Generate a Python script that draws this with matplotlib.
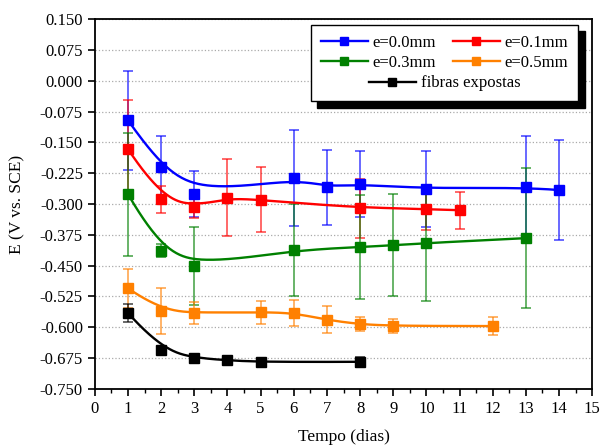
import numpy as np
import matplotlib
matplotlib.use("Agg")
import matplotlib.pyplot as plt
from matplotlib.lines import Line2D
from matplotlib.ticker import MultipleLocator, FormatStrFormatter

plt.rcParams["font.family"] = ["Liberation Serif", "DejaVu Serif"]
plt.rcParams["axes.unicode_minus"] = False

# dados
dias_00 = [1, 2, 3, 6, 7, 8, 10, 13, 14]
e_00 = [-0.096, -0.210, -0.276, -0.237, -0.259, -0.251, -0.264, -0.259, -0.266]
err_00 = [0.120, 0.075, 0.056, 0.117, 0.091, 0.080, 0.092, 0.124, 0.122]

dias_01 = [1, 2, 3, 4, 5, 8, 10, 11]
e_01 = [-0.166, -0.288, -0.307, -0.285, -0.290, -0.310, -0.312, -0.315]
err_01 = [0.119, 0.033, 0.027, 0.094, 0.079, 0.072, 0.050, 0.045]

dias_03 = [1, 2, 3, 6, 8, 9, 10, 13]
e_03 = [-0.276, -0.414, -0.451, -0.412, -0.405, -0.400, -0.395, -0.383]
err_03 = [0.150, 0.016, 0.094, 0.113, 0.127, 0.125, 0.141, 0.170]

dias_05 = [1, 2, 3, 5, 6, 7, 8, 9, 12]
e_05 = [-0.505, -0.560, -0.565, -0.563, -0.565, -0.582, -0.593, -0.597, -0.597]
err_05 = [0.047, 0.056, 0.027, 0.028, 0.032, 0.033, 0.017, 0.017, 0.022]

dias_fib = [1, 2, 3, 4, 5, 8]
e_fib = [-0.565, -0.655, -0.675, -0.680, -0.685, -0.684]
err_fib = [0.022, 0.0, 0.004, 0.006, 0.005, 0.012]


def bspline(x, y, n=300, k=3):
    # curva B-spline com os pontos como pontos de controle (como no Origin)
    P = np.column_stack([x, y]).astype(float)
    m = len(P)
    k = min(k, m - 1)
    t = np.concatenate([np.zeros(k), np.arange(m - k + 1), np.full(k, m - k)]).astype(float)
    u = np.linspace(0, m - k, n)
    u[-1] -= 1e-9

    def base(i, p):
        if p == 0:
            return ((t[i] <= u) & (u < t[i + 1])).astype(float)
        a = np.zeros_like(u)
        d1 = t[i + p] - t[i]
        if d1 > 0:
            a += (u - t[i]) / d1 * base(i, p - 1)
        d2 = t[i + p + 1] - t[i + 1]
        if d2 > 0:
            a += (t[i + p + 1] - u) / d2 * base(i + 1, p - 1)
        return a

    B = np.column_stack([base(i, k) for i in range(m)])
    C = B @ P
    return C[:, 0], C[:, 1]


fig = plt.figure(figsize=(6, 4.46), dpi=100)
ax = fig.add_axes([0.158, 0.128, 0.829, 0.829])

series = [
    (dias_00, e_00, err_00, "#0000ff", "e=0.0mm"),
    (dias_01, e_01, err_01, "#ff0000", "e=0.1mm"),
    (dias_03, e_03, err_03, "#008000", "e=0.3mm"),
    (dias_05, e_05, err_05, "#ff8000", "e=0.5mm"),
    (dias_fib, e_fib, err_fib, "black", "fibras expostas"),
]

handles = {}
for x, y, err, cor, nome in series:
    ax.errorbar(x, y, yerr=err, fmt="none", ecolor=cor, elinewidth=1.1,
                capsize=3.5, capthick=1.1, alpha=0.75, zorder=2)
    xs, ys = bspline(x, y)
    ax.plot(xs, ys, color=cor, lw=1.7, zorder=3)
    ax.plot(x, y, "s", color=cor, ms=6.5, zorder=4)
    h, = ax.plot([], [], "-s", color=cor, lw=1.7, ms=6)
    handles[nome] = h

ax.set_xlim(0, 15)
ax.set_ylim(-0.750, 0.150)
ax.xaxis.set_major_locator(MultipleLocator(1))
ax.xaxis.set_minor_locator(MultipleLocator(0.5))
ax.yaxis.set_major_locator(MultipleLocator(0.075))
ax.yaxis.set_major_formatter(FormatStrFormatter("%.3f"))
ax.tick_params(axis="both", which="major", direction="out", length=5, width=1.2,
               labelsize=12, top=False, right=False)
ax.tick_params(axis="x", which="minor", direction="out", length=3, width=1.0, top=False)
ax.tick_params(axis="y", which="minor", left=False)
for s in ax.spines.values():
    s.set_linewidth(1.3)
ax.grid(axis="y", which="major", ls=":", color="#aaaaaa", lw=0.9)
ax.set_axisbelow(True)

ax.set_xlabel("Tempo (dias)", fontsize=12.5, labelpad=9)
ax.set_ylabel("E (V vs. SCE)", fontsize=12.5, labelpad=10)

# legenda: 2 colunas + linha vazia onde entra "fibras expostas" centrada
vazio = Line2D([], [], color="none")
ordem = ["e=0.0mm", "e=0.3mm", None, "e=0.1mm", "e=0.5mm", None]
leg = ax.legend([handles[n] if n else vazio for n in ordem],
                [n if n else "e=0.0mm" for n in ordem],
                ncol=2, loc="upper right", bbox_to_anchor=(0.972, 0.984),
                fontsize=12, frameon=True, fancybox=False, edgecolor="black",
                framealpha=1,
                shadow={"ox": 4.5, "oy": -4.5, "color": "black", "alpha": 1},
                handlelength=2.8, columnspacing=1.0, handletextpad=0.3,
                labelspacing=0.25, borderpad=0.6, borderaxespad=0)
leg.get_frame().set_linewidth(1.0)
for i, n in enumerate(ordem):
    if n is None:
        leg.get_texts()[i].set_alpha(0)
ax.add_artist(leg)

fig.canvas.draw()
bb = leg.get_window_extent().transformed(fig.transFigure.inverted())
leg2 = ax.legend([handles["fibras expostas"]], ["fibras expostas"],
                 loc="lower center", bbox_to_anchor=((bb.x0 + bb.x1) / 2, bb.y0),
                 bbox_transform=fig.transFigure, fontsize=12, frameon=False,
                 handlelength=2.8, handletextpad=0.3, borderpad=0.6,
                 borderaxespad=0)

fig.savefig("out.png", dpi=100)
